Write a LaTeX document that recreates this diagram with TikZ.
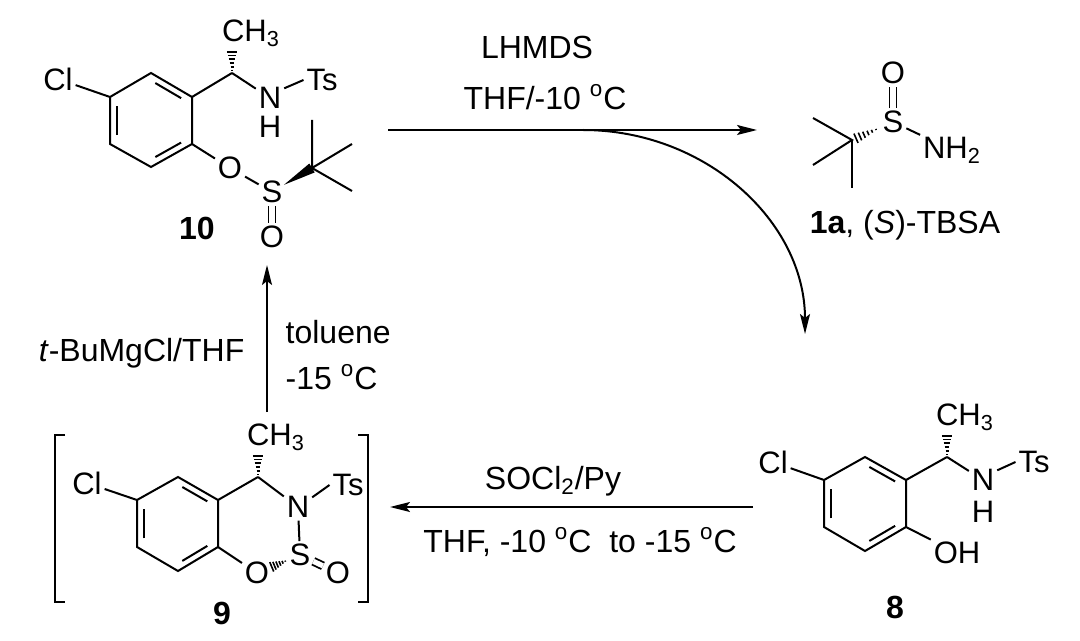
\documentclass[tikz,border=0pt]{standalone}
\usepackage{fontspec}
\setmainfont{Liberation Sans}
\usepackage{tikz}
\usetikzlibrary{calc, arrows.meta}

\newcommand{\hashbond}[2]{\foreach \t in {0.1,0.25,0.4,0.55,0.7,0.85}
  \draw[line width=0.8pt] ($(#1)!\t!(#2)!{\t*3pt}!90:(#2)$) -- ($(#1)!\t!(#2)!{-\t*3pt}!90:(#2)$);}
\newcommand{\wedgebond}[2]{\fill ($(#1)$) -- ($(#2)!2.6pt!90:(#1)$) -- ($(#2)!2.6pt!-90:(#1)$) -- cycle;}
\newcommand{\innerbond}[3]{\draw[shorten <=2.5pt, shorten >=2.5pt] ($(#1)!0.84!(#2)$) -- ($(#1)!0.84!(#3)$);}

\begin{document}
\begin{tikzpicture}[x=0.5pt, y=-0.5pt, line width=1pt, >={Stealth[length=10pt, width=5pt, inset=2pt]},
  font=\fontsize{16}{19}\selectfont,
  atom/.style={inner sep=1pt, font=\fontsize{15.5}{18}\selectfont},
  sbond/.style={double, double distance=2.6pt, line width=0.9pt}]
\useasboundingbox (0,0) rectangle (1080,641);

% 10
\coordinate (c10) at (151,120);
\coordinate (r10a) at (151,73);
\coordinate (r10b) at (192,97);
\coordinate (r10c) at (192,144);
\coordinate (r10d) at (151,167);
\coordinate (r10e) at (110,144);
\coordinate (r10f) at (110,97);
\draw (r10a) -- (r10b) -- (r10c) -- (r10d) -- (r10e) -- (r10f) -- cycle;
\innerbond{c10}{r10a}{r10b}
\innerbond{c10}{r10e}{r10f}
\innerbond{c10}{r10c}{r10d}
\node[atom] (cl10) at (58,79) {Cl};
\draw (cl10) -- (r10f);
\coordinate (st10) at (232,73);
\coordinate (me10) at (232,48);
\draw (r10b) -- (st10);
\hashbond{st10}{me10}
\node[atom] (ch10) at (251,33) {CH\textsubscript{3}};
\node[atom] (n10) at (270,98) {N};
\node[atom] (h10) at (270,127) {H};
\node[atom] (ts10) at (322,80) {Ts};
\draw (st10) -- (n10);
\draw ([yshift=-2pt]n10.north east) -- (ts10.west);
\node[atom] (o10) at (230,168) {O};
\node[atom] (s10) at (272,192) {S};
\node[atom] (ob10) at (272,237) {O};
\draw (r10c) -- (o10);
\draw (o10) -- (s10);
\draw[sbond] (s10) -- (ob10);
\coordinate (q10) at (312,168);
\coordinate (w10) at ($(s10)!7pt!(q10)$);
\wedgebond{w10}{q10}
\coordinate (m10a) at (312,120);
\coordinate (m10b) at (352,144);
\coordinate (m10c) at (352,191);
\draw (m10a) -- (q10) -- (m10b);
\draw (q10) -- (m10c);
\node (lab10) at (197,228) {\textbf{10}};

% 1a
\node[atom] (s1) at (893,122) {S};
\node[atom] (o1) at (893,73) {O};
\node[atom] (nh1) at (952,150) {NH\textsubscript{2}};
\draw[sbond] (s1) -- (o1);
\draw (s1) -- (nh1);
\coordinate (q1) at (852,140);
\coordinate (h1) at ($(s1)!0.35!(q1)$);
\hashbond{h1}{q1}
\coordinate (m1a) at (813,118);
\coordinate (m1b) at (813,165);
\coordinate (m1c) at (852,188);
\draw (m1a) -- (q1) -- (m1b);
\draw (q1) -- (m1c);
\node (lab1) at (905,225) {\textbf{1a}, (\textit{S})-TBSA};

% 8
\coordinate (c8) at (865,504);
\coordinate (r8a) at (865,457);
\coordinate (r8b) at (906,480);
\coordinate (r8c) at (906,527);
\coordinate (r8d) at (865,551);
\coordinate (r8e) at (824,527);
\coordinate (r8f) at (824,480);
\draw (r8a) -- (r8b) -- (r8c) -- (r8d) -- (r8e) -- (r8f) -- cycle;
\innerbond{c8}{r8a}{r8b}
\innerbond{c8}{r8e}{r8f}
\innerbond{c8}{r8c}{r8d}
\node[atom] (cl8) at (773,462) {Cl};
\draw (cl8) -- (r8f);
\coordinate (st8) at (947,457);
\coordinate (me8) at (947,432);
\draw (r8b) -- (st8);
\hashbond{st8}{me8}
\node[atom] (ch8) at (965,417) {CH\textsubscript{3}};
\node[atom] (n8) at (983,480) {N};
\node[atom] (h8) at (983,512) {H};
\node[atom] (ts8) at (1034,462) {Ts};
\draw (st8) -- (n8);
\draw ([yshift=-2pt]n8.north east) -- (ts8.west);
\node[atom] (oh8) at (957,553) {OH};
\draw (r8c) -- (oh8);
\node (lab8) at (895,607) {\textbf{8}};

% 9
\coordinate (c9) at (178,524);
\coordinate (r9a) at (178,477);
\coordinate (r9b) at (218,500);
\coordinate (r9c) at (218,547);
\coordinate (r9d) at (178,571);
\coordinate (r9e) at (137,547);
\coordinate (r9f) at (137,500);
\draw (r9a) -- (r9b) -- (r9c) -- (r9d) -- (r9e) -- (r9f) -- cycle;
\innerbond{c9}{r9a}{r9b}
\innerbond{c9}{r9e}{r9f}
\innerbond{c9}{r9c}{r9d}
\node[atom] (cl9) at (87,483) {Cl};
\draw (cl9) -- (r9f);
\coordinate (st9) at (258,477);
\coordinate (me9) at (258,452);
\draw (r9b) -- (st9);
\hashbond{st9}{me9}
\node[atom] (ch9) at (276,437) {CH\textsubscript{3}};
\node[atom] (n9) at (298,507) {N};
\node[atom] (ts9) at (348,485) {Ts};
\node[atom] (s9) at (300,555) {S};
\node[atom] (o9) at (257,573) {O};
\node[atom] (ob9) at (338,573) {O};
\draw (st9) -- (n9);
\draw ([yshift=-2pt]n9.north east) -- (ts9.west);
\draw (n9) -- (s9);
\draw[sbond] (s9) -- (ob9);
\draw (r9c) -- (o9);
\coordinate (h9a) at ($(s9)!0.3!(o9)$);
\coordinate (h9b) at ($(s9)!0.72!(o9)$);
\hashbond{h9a}{h9b}
\draw (65,435) -- (55,435) -- (55,602) -- (65,602);
\draw (358,435) -- (368,435) -- (368,602) -- (358,602);
\node (lab9) at (222,613) {\textbf{9}};

% arrows
\coordinate (a1s) at (388,130);
\coordinate (a1e) at (757,130);
\draw[->] (a1s) -- (a1e);
\coordinate (a2s) at (583,130);
\coordinate (a2e) at (805,334);
\draw[->] (a2s) .. controls (705,130) and (805,221) .. (a2e);
\node (lhmds) at (537,47) {LHMDS};
\node (thf1) at (545,97) {THF/-10 \textsuperscript{o}C};

\coordinate (a3s) at (753,507);
\coordinate (a3e) at (390,507);
\draw[->] (a3s) -- (a3e);
\node (socl) at (553,481) {SOCl\textsubscript{2}/Py};
\node (thf2) at (580,542) {THF, -10 \textsuperscript{o}C\ \ to -15 \textsuperscript{o}C};

\coordinate (a4s) at (267,412);
\coordinate (a4e) at (267,265);
\draw[->] (a4s) -- (a4e);
\node[anchor = east] (tbu) at (252,353) {\textit{t}-BuMgCl/THF};
\node[anchor = west] (tol) at (278,332) {toluene};
\node[anchor = west] (temp4) at (278,377) {-15 \textsuperscript{o}C};
\end{tikzpicture}
\end{document}
